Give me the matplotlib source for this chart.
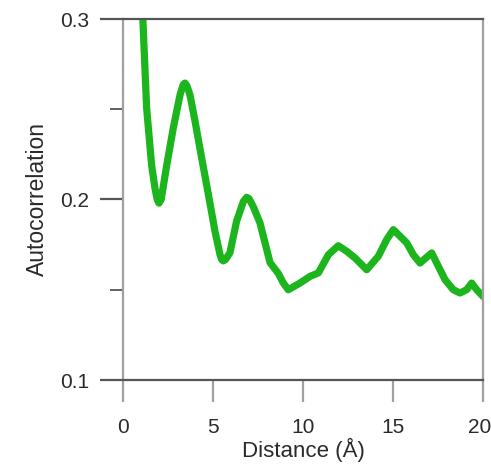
import matplotlib
matplotlib.use("Agg")
import matplotlib.pyplot as plt
from matplotlib.ticker import MultipleLocator
from matplotlib.transforms import ScaledTranslation

distance = [1.0, 1.09, 1.31, 1.59, 1.78, 1.9, 2.0, 2.12, 2.43, 2.80, 3.17, 3.34,
            3.44, 3.55, 3.72, 4.0, 4.37, 4.74, 5.11, 5.39, 5.48, 5.57, 5.7, 5.94,
            6.31, 6.69, 6.87, 7.0, 7.24, 7.61, 7.89, 8.17, 8.63, 8.91, 9.18,
            9.83, 10.39, 10.85, 11.41, 11.96, 12.43, 12.89, 13.54, 14.18, 14.65,
            15.02, 15.76, 16.13, 16.5, 17.15, 17.52, 17.89, 18.35, 18.72, 19.09,
            19.37, 19.65, 20.0]
autocorr = [0.33, 0.303, 0.251, 0.219, 0.206, 0.2, 0.198, 0.2, 0.219, 0.240,
            0.258, 0.2635, 0.2645, 0.263, 0.258, 0.2435, 0.223, 0.203, 0.1824,
            0.1694, 0.1668, 0.166, 0.1668, 0.1705, 0.188, 0.199, 0.2012, 0.2005,
            0.196, 0.187, 0.176, 0.165, 0.159, 0.1537, 0.150, 0.1537, 0.1574,
            0.1593, 0.1694, 0.1744, 0.1713, 0.1676, 0.1611, 0.1685, 0.1778,
            0.1833, 0.176, 0.1694, 0.1648, 0.1704, 0.163, 0.1556, 0.150, 0.1482,
            0.150, 0.1537, 0.150, 0.1463]
x_ticks = [0, 5, 10, 15, 20]
y_ticks = [0.1, 0.2, 0.3]

plt.rcParams['font.family'] = ['Liberation Sans', 'DejaVu Sans']

fig = plt.figure(figsize=(4.91, 4.69), dpi=100)
ax = fig.add_axes([123/491, 1 - 380/469, 360/491, 361/469])

ax.plot(distance, autocorr, color='#1db51d', lw=5.2, solid_joinstyle='round',
        solid_capstyle='round')

ax.set_xlim(0, 20)
ax.set_ylim(0.1, 0.3)
ax.set_xticks(x_ticks)
ax.set_xticklabels([str(t) for t in x_ticks])
ax.set_yticks(y_ticks)
ax.set_yticklabels([f"{t:.1f}" for t in y_ticks])
ax.yaxis.set_minor_locator(MultipleLocator(0.05))

dark = '#555555'
light = '#a0a0a0'
for s in ['top', 'bottom']:
    ax.spines[s].set_color(dark)
    ax.spines[s].set_linewidth(1.6)
for s in ['left', 'right']:
    ax.spines[s].set_color(light)
    ax.spines[s].set_linewidth(1.6)

ax.tick_params(axis='y', which='major', length=16.5, width=1.6, color=dark,
               pad=8, labelsize=15, labelcolor='#2a2a2a')
ax.tick_params(axis='y', which='minor', length=9.4, width=1.3, color=dark)
ax.tick_params(axis='x', which='major', length=16, width=1.6, color=light,
               pad=11, labelsize=15, labelcolor='#2a2a2a')

last = ax.get_xticklabels()[-1]
last.set_transform(last.get_transform() + ScaledTranslation(-3/100, 0, fig.dpi_scale_trans))

ax.set_xlabel('Distance (Å)', fontsize=16, color='#2a2a2a', labelpad=1)
ax.set_ylabel('Autocorrelation', fontsize=16.5, color='#2a2a2a', labelpad=8)

fig.savefig('out.png', dpi=100)
